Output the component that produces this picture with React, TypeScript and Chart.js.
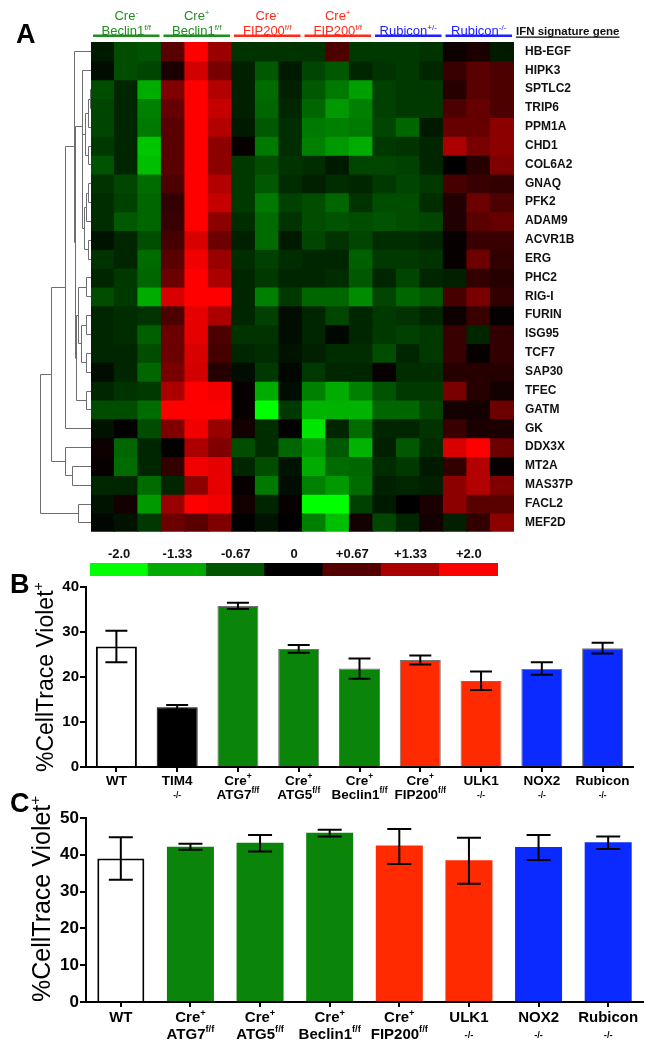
import React, { useEffect, useRef } from 'react';
import { Chart, registerables } from 'chart.js';

Chart.register(...registerables);

const FONT = 'Arial, "Liberation Sans", Helvetica, sans-serif';

// ---------------- Panel A : heatmap data ----------------
const genes = ['HB-EGF', 'HIPK3', 'SPTLC2', 'TRIP6', 'PPM1A', 'CHD1', 'COL6A2', 'GNAQ', 'PFK2', 'ADAM9', 'ACVR1B', 'ERG', 'PHC2', 'RIG-I', 'FURIN', 'ISG95', 'TCF7', 'SAP30', 'TFEC', 'GATM', 'GK', 'DDX3X', 'MT2A', 'MAS37P', 'FACL2', 'MEF2D'];

const sampleColumns = [
  'CreNeg-Beclin1-1', 'CreNeg-Beclin1-2', 'CreNeg-Beclin1-3',
  'CrePos-Beclin1-1', 'CrePos-Beclin1-2', 'CrePos-Beclin1-3',
  'CreNeg-FIP200-1', 'CreNeg-FIP200-2', 'CreNeg-FIP200-3',
  'CrePos-FIP200-1', 'CrePos-FIP200-2', 'CrePos-FIP200-3',
  'Rubicon-het-1', 'Rubicon-het-2', 'Rubicon-het-3',
  'Rubicon-ko-1', 'Rubicon-ko-2', 'Rubicon-ko-3',
];

const groupTop = ['Cre', 'Cre', 'Cre', 'Cre', '', ''];
const groupTopSup = ['-', '+', '-', '+', '', ''];
const groupName = ['Beclin1', 'Beclin1', 'FIP200', 'FIP200', 'Rubicon', 'Rubicon'];
const groupNameSup = ['f/f', 'f/f', 'f/f', 'f/f', '+/-', '-/-'];

// z-scores, one row per gene, 18 samples
const heatValues: number[][] = [
  [-0.2, -0.6, -0.65, 0.7, 2.0, 1.2, -0.4, -0.4, -0.4, -0.4, 0.6, -0.45, -0.45, -0.45, -0.4, 0.1, 0.2, -0.2],
  [-0.1, -0.6, -0.55, 0.2, 1.65, 0.95, -0.25, -0.7, -0.2, -0.55, -0.7, -0.3, -0.4, -0.45, -0.3, 0.45, 0.7, 0.6],
  [-0.6, -0.3, -1.35, 1.0, 2.0, 1.4, -0.25, -0.85, -0.25, -0.7, -0.95, -1.25, -0.5, -0.45, -0.45, 0.3, 0.7, 0.6],
  [-0.55, -0.3, -1.0, 0.8, 2.0, 1.55, -0.25, -0.8, -0.3, -0.8, -1.2, -1.0, -0.5, -0.45, -0.45, 0.6, 0.8, 0.6],
  [-0.55, -0.3, -0.95, 0.7, 2.0, 1.4, -0.2, -0.7, -0.35, -0.95, -1.0, -0.95, -0.55, -0.8, -0.2, 0.8, 0.8, 1.1],
  [-0.45, -0.3, -1.55, 0.7, 2.0, 1.1, 0.05, -0.95, -0.35, -1.0, -1.2, -1.35, -0.45, -0.4, -0.3, 1.35, 0.95, 1.1],
  [-0.65, -0.3, -1.5, 0.7, 2.0, 1.1, -0.45, -0.6, -0.4, -0.35, -0.2, -0.55, -0.55, -0.5, -0.3, 0.0, 0.3, 1.0],
  [-0.4, -0.55, -0.85, 0.6, 2.0, 1.4, -0.45, -0.7, -0.35, -0.25, -0.35, -0.3, -0.45, -0.55, -0.45, 0.55, 0.45, 0.4],
  [-0.35, -0.5, -0.8, 0.4, 2.0, 1.55, -0.45, -0.95, -0.5, -0.6, -0.8, -0.4, -0.6, -0.6, -0.35, 0.25, 0.85, 0.6],
  [-0.35, -0.7, -0.8, 0.45, 2.0, 1.1, -0.35, -0.85, -0.4, -0.6, -0.65, -0.6, -0.65, -0.6, -0.55, 0.25, 0.7, 0.8],
  [-0.15, -0.3, -0.6, 0.55, 1.7, 0.85, -0.25, -0.85, -0.2, -0.55, -0.4, -0.55, -0.35, -0.35, -0.3, 0.05, 0.45, 0.45],
  [-0.4, -0.3, -0.85, 0.7, 1.9, 1.2, -0.35, -0.5, -0.35, -0.3, -0.3, -0.75, -0.45, -0.45, -0.4, 0.05, 0.85, 0.4],
  [-0.3, -0.45, -0.8, 0.85, 2.0, 1.35, -0.3, -0.45, -0.3, -0.3, -0.35, -0.7, -0.3, -0.55, -0.3, -0.25, 0.4, 0.3],
  [-0.6, -0.45, -1.35, 1.7, 2.0, 2.0, -0.3, -1.0, -0.45, -0.8, -0.8, -1.1, -0.55, -0.8, -0.7, 0.55, 0.95, 0.4],
  [-0.3, -0.35, -0.4, 0.6, 1.8, 1.35, -0.3, -0.5, -0.1, -0.3, -0.55, -0.3, -0.45, -0.4, -0.3, 0.1, 0.45, 0.05],
  [-0.3, -0.35, -0.75, 0.85, 1.8, 0.6, -0.4, -0.4, -0.1, -0.3, -0.05, -0.3, -0.45, -0.5, -0.45, 0.45, -0.3, 0.4],
  [-0.3, -0.3, -0.6, 0.85, 1.7, 0.55, -0.3, -0.35, -0.15, -0.25, -0.35, -0.35, -0.6, -0.3, -0.45, 0.45, 0.05, 0.4],
  [-0.1, -0.3, -0.8, 0.95, 1.65, 0.3, -0.1, -0.45, -0.05, -0.45, -0.3, -0.3, 0.05, -0.35, -0.35, 0.3, 0.3, 0.3],
  [-0.3, -0.4, -0.45, 1.35, 2.0, 1.9, 0.05, -1.35, -0.1, -1.0, -1.35, -1.0, -0.65, -0.45, -0.45, 0.95, 0.3, 0.15],
  [-0.6, -0.6, -0.85, 2.0, 2.0, 2.0, 0.05, -2.0, -0.45, -1.4, -1.4, -1.4, -0.8, -0.8, -0.55, 0.15, 0.15, 0.85],
  [-0.15, 0.0, -0.6, 1.0, 1.9, 1.2, 0.15, -0.35, 0.0, -1.8, -0.3, -0.85, -0.3, -0.3, -0.4, 0.45, 0.2, 0.2],
  [0.1, -0.8, -0.3, 0.0, 1.35, 1.0, -0.6, -0.35, -0.8, -1.2, -0.7, -1.4, -0.25, -0.7, -0.35, 1.7, 2.0, 0.85],
  [0.05, -0.85, -0.3, 0.4, 1.9, 1.8, -0.3, -0.6, -0.15, -1.35, -0.85, -0.8, -0.35, -0.45, -0.2, 0.4, 1.4, 0.05],
  [-0.3, -0.3, -0.85, -0.3, 1.1, 1.8, 0.05, -0.95, -0.1, -1.0, -1.2, -0.85, -0.25, -0.3, -0.25, 1.1, 1.4, 1.0],
  [-0.15, 0.15, -1.2, 1.2, 2.0, 1.9, 0.15, -0.3, 0.05, -2.0, -2.0, -0.5, -0.2, 0.0, 0.2, 1.1, 0.7, 0.7],
  [-0.05, -0.15, -0.45, 0.85, 0.7, 1.0, 0.0, -0.15, 0.0, -1.0, -1.5, 0.15, -0.55, -0.3, 0.15, -0.25, 0.4, 1.1],
];

// hierarchical clustering: [childA, childB, linkage height]; new node ids start at genes.length
const dendroMerges: [number, number, number][] = [
  [2, 3, 1.3], [26, 4, 3.3], [5, 6, 2.7], [27, 28, 5.7], [7, 8, 3.3], [30, 9, 4.7],
  [10, 11, 2.7], [31, 32, 6.7], [29, 33, 8.7], [1, 34, 9.3], [12, 13, 4.7], [14, 15, 4.7],
  [16, 17, 5.3], [37, 38, 10], [36, 39, 13.3], [18, 19, 4.7], [40, 41, 14.7], [35, 42, 15.7],
  [0, 43, 16.7], [44, 20, 26.3], [22, 23, 19], [21, 46, 26.3], [45, 47, 40], [24, 25, 13.3],
  [48, 49, 51.3],
];

const legendTicks = ['-2.0', '-1.33', '-0.67', '0', '+0.67', '+1.33', '+2.0'];
const legendValues = [-2, -1.33, -0.67, 0, 0.67, 1.33, 2];

// ---------------- Panel B ----------------
const bCategories = ['WT', 'TIM4-/-', 'Cre+ ATG7f/f', 'Cre+ ATG5f/f', 'Cre+ Beclin1f/f', 'Cre+ FIP200f/f', 'ULK1-/-', 'NOX2-/-', 'Rubicon-/-'];
const bLine1 = ['WT', 'TIM4', 'Cre', 'Cre', 'Cre', 'Cre', 'ULK1', 'NOX2', 'Rubicon'];
const bLine1Sup = ['', '', '+', '+', '+', '+', '', '', ''];
const bLine2 = ['', '', 'ATG7', 'ATG5', 'Beclin1', 'FIP200', '', '', ''];
const bLine2Sup = ['', '-/-', 'f/f', 'f/f', 'f/f', 'f/f', '-/-', '-/-', '-/-'];
const bMeans = [26.8, 13.3, 35.8, 26.2, 21.9, 23.8, 19.1, 21.8, 26.4];
const bLow = [23.3, 12.8, 35.1, 25.4, 19.6, 22.8, 17.1, 20.5, 25.2];
const bHigh = [30.3, 13.8, 36.5, 27.1, 24.1, 24.8, 21.2, 23.3, 27.6];

// ---------------- Panel C ----------------
const cCategories = ['WT', 'Cre+ ATG7f/f', 'Cre+ ATG5f/f', 'Cre+ Beclin1f/f', 'Cre+ FIP200f/f', 'ULK1-/-', 'NOX2-/-', 'Rubicon-/-'];
const cLine1 = ['WT', 'Cre', 'Cre', 'Cre', 'Cre', 'ULK1', 'NOX2', 'Rubicon'];
const cLine1Sup = ['', '+', '+', '+', '+', '', '', ''];
const cLine2 = ['', 'ATG7', 'ATG5', 'Beclin1', 'FIP200', '', '', ''];
const cLine2Sup = ['', 'f/f', 'f/f', 'f/f', 'f/f', '-/-', '-/-', '-/-'];
const cMeans = [39.0, 42.2, 43.3, 46.0, 42.5, 38.5, 42.1, 43.4];
const cLow = [33.2, 41.4, 40.9, 45.0, 37.5, 32.1, 38.6, 41.6];
const cHigh = [44.8, 43.0, 45.4, 46.8, 47.0, 44.6, 45.4, 45.0];

// ---------------- styles ----------------
const GREEN = '#0a850a';
const RED = '#ff2a00';
const BLUE = '#0a2aff';
const HEAD_GREEN = '#1f8f1f';
const HEAD_RED = '#ff2a1a';
const HEAD_BLUE = '#2020ff';
const groupColors = [HEAD_GREEN, HEAD_GREEN, HEAD_RED, HEAD_RED, HEAD_BLUE, HEAD_BLUE];
const bColors = ['#ffffff', '#000000', GREEN, GREEN, GREEN, RED, RED, BLUE, BLUE];
const cColors = ['#ffffff', GREEN, GREEN, GREEN, RED, RED, BLUE, BLUE];

function valueToColor(v: number): string {
  const c = Math.max(-2, Math.min(2, v));
  if (c < 0) return `rgb(0,${Math.round((255 * -c) / 2)},0)`;
  return `rgb(${Math.round((255 * c) / 2)},0,0)`;
}

type Seg = { t: string; sup?: boolean };

function drawRich(
  ctx: CanvasRenderingContext2D,
  segs: Seg[],
  x: number,
  baseline: number,
  size: number,
  weight: string,
  color: string,
  align: 'center' | 'left' = 'center'
) {
  const parts = segs.filter((s) => s.t);
  if (!parts.length) return 0;
  const supSize = size * 0.62;
  const fontOf = (s: Seg) => `${weight} ${s.sup ? supSize : size}px ${FONT}`;
  const widths = parts.map((s) => {
    ctx.font = fontOf(s);
    return ctx.measureText(s.t).width;
  });
  const total = widths.reduce((a, b) => a + b, 0);
  const onlySup = parts.every((s) => s.sup);
  let cx = align === 'center' ? x - total / 2 : x;
  ctx.fillStyle = color;
  ctx.textAlign = 'left';
  ctx.textBaseline = 'alphabetic';
  parts.forEach((s, i) => {
    ctx.font = fontOf(s);
    const y = s.sup && !onlySup ? baseline - size * 0.42 : onlySup ? baseline - 1 : baseline;
    ctx.fillText(s.t, cx, y);
    cx += widths[i];
  });
  return total;
}

// ---------------- heatmap chart ----------------
function makeHeatmap(canvas: HTMLCanvasElement) {
  const decor = {
    id: 'heatDecor',
    afterDraw(chart: any) {
      const ctx: CanvasRenderingContext2D = chart.ctx;
      const xs = chart.scales.x;
      const ys = chart.scales.y;
      const area = chart.chartArea;
      ctx.save();
      // dendrogram
      const nodes = genes.map((_, i) => ({ x: area.left, y: ys.getPixelForValue(i + 0.5) }));
      ctx.strokeStyle = '#6e6e6e';
      ctx.lineWidth = 1;
      dendroMerges.forEach(([a, b, h]) => {
        const na = nodes[a];
        const nb = nodes[b];
        const hx = Math.round(area.left - h) + 0.5;
        const ya = Math.round(na.y) + 0.5;
        const yb = Math.round(nb.y) + 0.5;
        ctx.beginPath();
        ctx.moveTo(na.x, ya);
        ctx.lineTo(hx, ya);
        ctx.lineTo(hx, yb);
        ctx.lineTo(nb.x, yb);
        ctx.stroke();
        nodes.push({ x: hx, y: (na.y + nb.y) / 2 });
      });
      // group headers
      const colW = xs.getPixelForValue(1) - xs.getPixelForValue(0);
      for (let g = 0; g < 6; g++) {
        const cx = xs.getPixelForValue(3 * g + 1);
        const left = xs.getPixelForValue(3 * g) - colW / 2;
        const right = xs.getPixelForValue(3 * g + 2) + colW / 2;
        if (groupTop[g]) {
          drawRich(ctx, [{ t: groupTop[g] }, { t: groupTopSup[g], sup: true }], cx, 20, 13, 'normal', groupColors[g]);
        }
        drawRich(ctx, [{ t: groupName[g] }, { t: groupNameSup[g], sup: true }], cx, 35, 13, 'normal', groupColors[g]);
        ctx.fillStyle = groupColors[g];
        ctx.fillRect(left + 2, 34.5, right - left - 4, 2.5);
      }
      // IFN signature gene header
      ctx.font = `bold 11.5px ${FONT}`;
      ctx.fillStyle = '#111';
      ctx.textAlign = 'left';
      ctx.textBaseline = 'alphabetic';
      const ifn = 'IFN signature gene';
      ctx.fillText(ifn, 516, 35);
      ctx.fillRect(516, 36.5, ctx.measureText(ifn).width, 1.3);
      // panel letter
      ctx.font = `bold 27px ${FONT}`;
      ctx.fillStyle = '#000';
      ctx.fillText('A', 16, 43);
      ctx.restore();
    },
  };

  return new Chart(canvas, {
    type: 'bar',
    data: {
      labels: sampleColumns,
      datasets: genes.map((g, r) => ({
        label: g,
        data: sampleColumns.map(() => 1),
        backgroundColor: heatValues[r].map(valueToColor),
        borderWidth: 0,
        barPercentage: 1,
        categoryPercentage: 1,
        inflateAmount: 0.6,
        yAxisID: 'y',
      })),
    },
    options: {
      responsive: false,
      animation: false,
      devicePixelRatio: 1,
      layout: { padding: { left: 91, top: 42, right: 0, bottom: 3 } },
      plugins: { legend: { display: false }, tooltip: { enabled: false } },
      scales: {
        x: { stacked: true, display: false },
        y: { stacked: true, display: false, min: 0, max: genes.length, reverse: true },
        yGenes: {
          type: 'linear',
          position: 'right',
          min: 0,
          max: genes.length,
          reverse: true,
          grid: { display: false, drawTicks: false },
          border: { display: false },
          afterBuildTicks: (s: any) => {
            s.ticks = genes.map((_, i) => ({ value: i + 0.5 }));
          },
          afterFit: (s: any) => {
            s.width = 140;
          },
          ticks: {
            autoSkip: false,
            padding: 11,
            color: '#111',
            font: { family: FONT, size: 12, weight: 'bold' },
            callback: (_v: any, i: number) => genes[i],
          },
        },
      } as any,
    },
    plugins: [decor],
  } as any);
}

// ---------------- colour key ----------------
function makeLegend(canvas: HTMLCanvasElement) {
  return new Chart(canvas, {
    type: 'bar',
    data: {
      labels: legendTicks,
      datasets: [
        {
          data: legendValues.map(() => 1),
          backgroundColor: legendValues.map(valueToColor),
          borderWidth: 0,
          barPercentage: 1,
          categoryPercentage: 1,
          inflateAmount: 0.6,
        },
      ],
    },
    options: {
      responsive: false,
      animation: false,
      devicePixelRatio: 1,
      layout: { padding: { left: 90, right: 156, top: 0, bottom: 0 } },
      plugins: { legend: { display: false }, tooltip: { enabled: false } },
      scales: {
        x: {
          position: 'top',
          grid: { display: false, drawTicks: false },
          border: { display: false },
          ticks: { padding: 1, color: '#111', font: { family: FONT, size: 13, weight: 'bold' } },
          afterFit: (s: any) => {
            s.height = 16;
          },
        },
        y: { display: false, min: 0, max: 1 },
      },
    } as any,
  } as any);
}

// ---------------- bar panels ----------------
interface BarPanel {
  letter: string;
  letterBase: number;
  categories: string[];
  means: number[];
  low: number[];
  high: number[];
  line1: string[];
  line1Sup: string[];
  line2: string[];
  line2Sup: string[];
  colors: string[];
  borderColors: string[];
  borderWidths: number[];
  yMax: number;
  padTop: number;
  padRight: number;
  xAxisH: number;
  tickSize: number;
  labelSize: number;
  l1: number;
  l2: number;
  capHalf: number;
  titleSize: number;
  titleBaseX: number;
  titleStartY: number;
}

function makeBar(canvas: HTMLCanvasElement, p: BarPanel) {
  const decor = {
    id: 'barDecor',
    afterDatasetsDraw(chart: any) {
      const ctx: CanvasRenderingContext2D = chart.ctx;
      const ys = chart.scales.y;
      const meta = chart.getDatasetMeta(0);
      ctx.save();
      ctx.strokeStyle = '#000';
      ctx.lineWidth = 2;
      p.means.forEach((_, i) => {
        const x = meta.data[i].x;
        const yl = ys.getPixelForValue(p.low[i]);
        const yh = ys.getPixelForValue(p.high[i]);
        ctx.beginPath();
        ctx.moveTo(x, yl);
        ctx.lineTo(x, yh);
        ctx.moveTo(x - p.capHalf, yl);
        ctx.lineTo(x + p.capHalf, yl);
        ctx.moveTo(x - p.capHalf, yh);
        ctx.lineTo(x + p.capHalf, yh);
        ctx.stroke();
      });
      ctx.restore();
    },
    afterDraw(chart: any) {
      const ctx: CanvasRenderingContext2D = chart.ctx;
      const xs = chart.scales.x;
      const axisY = chart.chartArea.bottom;
      ctx.save();
      p.categories.forEach((_, i) => {
        const x = xs.getPixelForValue(i);
        drawRich(ctx, [{ t: p.line1[i] }, { t: p.line1Sup[i], sup: true }], x, axisY + p.l1, p.labelSize, 'bold', '#000');
        drawRich(ctx, [{ t: p.line2[i] }, { t: p.line2Sup[i], sup: true }], x, axisY + p.l2, p.labelSize, 'bold', '#000');
      });
      // y-axis title
      ctx.translate(p.titleBaseX, p.titleStartY);
      ctx.rotate(-Math.PI / 2);
      drawRich(ctx, [{ t: '%CellTrace Violet' }, { t: '+', sup: true }], 0, 0, p.titleSize, 'normal', '#000', 'left');
      ctx.setTransform(1, 0, 0, 1, 0, 0);
      ctx.font = `bold 27px ${FONT}`;
      ctx.fillStyle = '#000';
      ctx.textAlign = 'left';
      ctx.textBaseline = 'alphabetic';
      ctx.fillText(p.letter, 10, p.letterBase);
      ctx.restore();
    },
  };

  return new Chart(canvas, {
    type: 'bar',
    data: {
      labels: p.categories,
      datasets: [
        {
          data: p.means,
          backgroundColor: p.colors,
          borderColor: p.borderColors,
          borderWidth: p.borderWidths,
          barPercentage: 0.675,
          categoryPercentage: 1,
        },
      ],
    },
    options: {
      responsive: false,
      animation: false,
      devicePixelRatio: 1,
      layout: { padding: { left: 0, top: p.padTop, right: p.padRight, bottom: 0 } },
      plugins: { legend: { display: false }, tooltip: { enabled: false } },
      scales: {
        x: {
          grid: { display: true, drawOnChartArea: false, drawTicks: true, tickLength: 5, color: '#000', lineWidth: 2, offset: false },
          border: { display: true, color: '#000', width: 2 },
          ticks: { display: false },
          afterFit: (s: any) => {
            s.height = p.xAxisH;
          },
        },
        y: {
          min: 0,
          max: p.yMax,
          grid: { display: true, drawOnChartArea: false, drawTicks: true, tickLength: 6, color: '#000', lineWidth: 2 },
          border: { display: true, color: '#000', width: 2 },
          ticks: { stepSize: 10, padding: 1, color: '#000', font: { family: FONT, size: p.tickSize, weight: 'bold' } },
          afterFit: (s: any) => {
            s.width = 86;
          },
        },
      },
    } as any,
    plugins: [decor],
  } as any);
}

const panelB: BarPanel = {
  letter: 'B',
  letterBase: 23,
  categories: bCategories,
  means: bMeans,
  low: bLow,
  high: bHigh,
  line1: bLine1,
  line1Sup: bLine1Sup,
  line2: bLine2,
  line2Sup: bLine2Sup,
  colors: bColors,
  borderColors: bColors.map((c, i) => (i < 2 ? '#000' : 'rgba(0,0,0,0.55)')),
  borderWidths: bColors.map((_, i) => (i === 0 ? 2 : 1)),
  yMax: 40,
  padTop: 17,
  padRight: 21,
  xAxisH: 43,
  tickSize: 15,
  labelSize: 13.5,
  l1: 18,
  l2: 31.5,
  capHalf: 11,
  titleSize: 23,
  titleBaseX: 53,
  titleStartY: 202,
};

const panelC: BarPanel = {
  letter: 'C',
  letterBase: 27,
  categories: cCategories,
  means: cMeans,
  low: cLow,
  high: cHigh,
  line1: cLine1,
  line1Sup: cLine1Sup,
  line2: cLine2,
  line2Sup: cLine2Sup,
  colors: cColors,
  borderColors: cColors.map((c, i) => (i === 0 ? '#000' : c)),
  borderWidths: cColors.map((_, i) => (i === 0 ? 2 : 0)),
  yMax: 50,
  padTop: 33,
  padRight: 11,
  xAxisH: 47,
  tickSize: 17,
  labelSize: 15,
  l1: 20,
  l2: 36.5,
  capHalf: 12,
  titleSize: 25,
  titleBaseX: 50,
  titleStartY: 217,
};

export default function App() {
  const heatRef = useRef<HTMLCanvasElement>(null);
  const legendRef = useRef<HTMLCanvasElement>(null);
  const bRef = useRef<HTMLCanvasElement>(null);
  const cRef = useRef<HTMLCanvasElement>(null);

  useEffect(() => {
    const charts = [
      makeHeatmap(heatRef.current!),
      makeLegend(legendRef.current!),
      makeBar(bRef.current!, panelB),
      makeBar(cRef.current!, panelC),
    ];
    return () => charts.forEach((c) => c.destroy());
  }, []);

  const abs = (top: number): React.CSSProperties => ({ position: 'absolute', left: 0, top });

  return (
    <div style={{ position: 'absolute', left: 0, top: 0, width: 654, height: 1049, background: '#fff', overflow: 'hidden' }}>
      <canvas ref={heatRef} width={654} height={550} style={abs(0)} />
      <canvas ref={legendRef} width={654} height={29} style={abs(547)} />
      <canvas ref={bRef} width={654} height={240} style={abs(570)} />
      <canvas ref={cRef} width={654} height={264} style={abs(785)} />
    </div>
  );
}
